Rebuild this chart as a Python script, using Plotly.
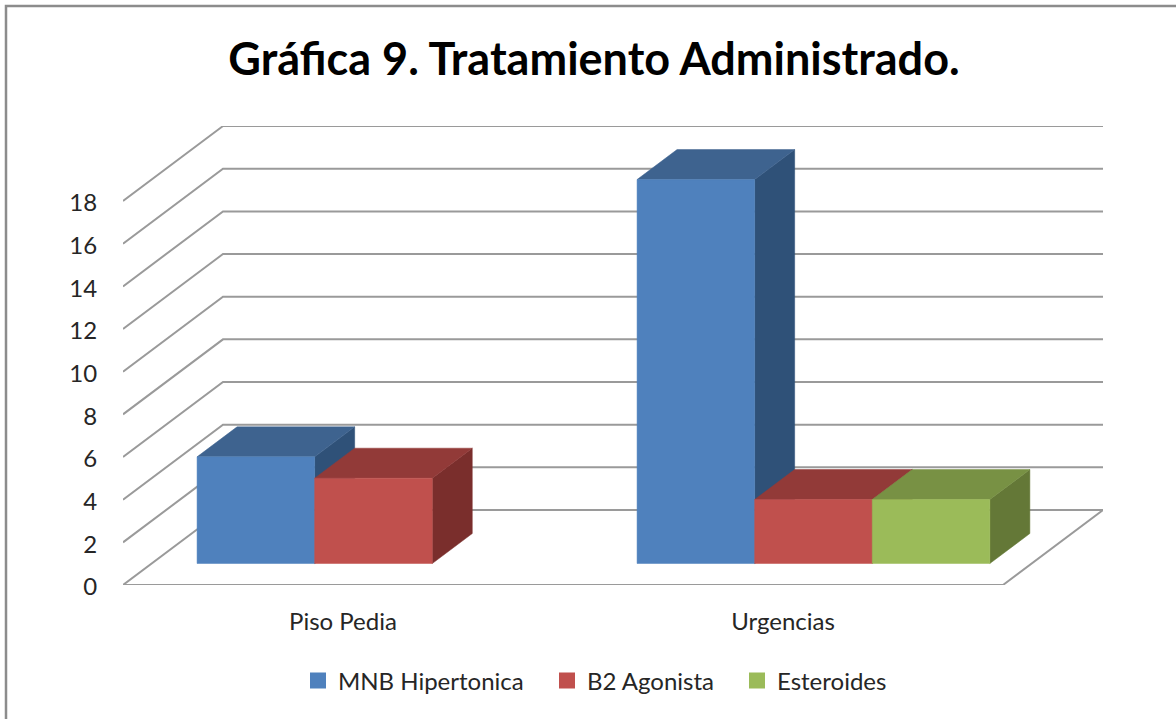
import plotly.graph_objects as go

title = "Gráfica 9. Tratamiento Administrado."
categories = ["Piso Pedia", "Urgencias"]
series_names = ["MNB Hipertonica", "B2 Agonista", "Esteroides"]
mnb_values = [5, 18]
b2_values = [4, 3]
ester_values = [None, 3]
y_ticks = list(range(0, 20, 2))

front_colors = ["#4F81BD", "#C0504D", "#9BBB59"]
top_colors = ["#3E638F", "#923A38", "#789144"]
side_colors = ["#2F5178", "#7A2E2C", "#647837"]
GRID = "#9A9A9A"
FONT = "Lato"
TEXT = "#262626"

# pixel layout of the plot area
W, H = 1176, 719
L, R, T, B = 123, 73, 126, 134
PX_PER_CAT = 440.0
PX_PER_UNIT = 21.33
DEPTH_X = 100.0 / PX_PER_CAT      # x units for full floor depth
DEPTH_Y = 75.0 / PX_PER_UNIT      # value units for full floor depth
BAR_W = 117.6 / PX_PER_CAT
BAR_SHIFT = 1.8 / PX_PER_CAT
BAR_D0, BAR_D1 = 21.5 / 75, 51.5 / 75
legend_px = [298, 547, 737]


def proj(x, v, d):
    return x + d * DEPTH_X, v + d * DEPTH_Y


def poly(points, color):
    pts = [proj(*p) for p in points]
    xs = [p[0] for p in pts] + [pts[0][0]]
    ys = [p[1] for p in pts] + [pts[0][1]]
    return go.Scatter(x=xs, y=ys, mode="lines", fill="toself", fillcolor=color,
                      line=dict(color=color, width=0.5),
                      showlegend=False, hoverinfo="skip")


def wire(pts):
    return go.Scatter(x=[p[0] for p in pts], y=[p[1] for p in pts], mode="lines",
                      line=dict(color=GRID, width=2), showlegend=False, hoverinfo="skip")


fig = go.Figure()

# back wall, left wall and floor
n = len(categories)
for v in y_ticks:
    if v == 0:
        fig.add_trace(wire([proj(n, v, 1), proj(n, v, 0), proj(0, v, 0), proj(0, v, 1)]))
    else:
        fig.add_trace(wire([proj(0, v, 0), proj(0, v, 1), proj(n, v, 1)]))
fig.add_trace(wire([proj(0, 0, 1), proj(n, 0, 1)]))

# 3-D bars, painted left to right so nearer faces overlap correctly
all_series = [mnb_values, b2_values, ester_values]
for ci in range(n):
    for si, values in enumerate(all_series):
        v = values[ci]
        if v is None:
            continue
        x0 = ci + 0.5 + (si - 1.5) * BAR_W + BAR_SHIFT
        x1 = x0 + BAR_W
        fig.add_trace(poly([(x1, 0, BAR_D0), (x1, 0, BAR_D1), (x1, v, BAR_D1), (x1, v, BAR_D0)],
                           side_colors[si]))
        fig.add_trace(poly([(x0, v, BAR_D0), (x1, v, BAR_D0), (x1, v, BAR_D1), (x0, v, BAR_D1)],
                           top_colors[si]))
        fig.add_trace(poly([(x0, 0, BAR_D0), (x1, 0, BAR_D0), (x1, v, BAR_D0), (x0, v, BAR_D0)],
                           front_colors[si]))

plot_w, plot_h = W - L - R, H - T - B

# one legend per series so each entry sits at its own place
legend_layout = {}
for i, (name, color) in enumerate(zip(series_names, front_colors)):
    key = "legend" if i == 0 else f"legend{i + 1}"
    fig.add_trace(go.Scatter(x=[None], y=[None], mode="markers", name=name, legend=key,
                             showlegend=True,
                             marker=dict(symbol="square", size=16, color=color)))
    legend_layout[key] = dict(orientation="h", x=(legend_px[i] - L) / plot_w, xanchor="left",
                              y=(H - B - 681) / plot_h, yanchor="middle", itemclick=False,
                              font=dict(family=FONT, size=24, color=TEXT),
                              bgcolor="rgba(0,0,0,0)")

fig.update_layout(
    width=W, height=H,
    margin=dict(l=L, r=R, t=T, b=B, pad=0),
    paper_bgcolor="white", plot_bgcolor="rgba(0,0,0,0)",
    title=dict(text=title, x=594 / W, xanchor="center", y=1 - 59 / H, yanchor="middle",
               font=dict(family=FONT, size=45, color="#000000", weight="bold")),
    xaxis=dict(range=[0, n + DEPTH_X], showgrid=False, zeroline=False, showline=False,
               tickmode="array", tickvals=[i + 0.5 for i in range(n)], ticktext=categories,
               ticks="outside", ticklen=15, tickcolor="rgba(0,0,0,0)",
               tickfont=dict(family=FONT, size=24, color=TEXT)),
    yaxis=dict(range=[0, plot_h / PX_PER_UNIT], showgrid=False, zeroline=False, showline=False,
               tickmode="array", tickvals=y_ticks, ticktext=[str(t) for t in y_ticks],
               ticks="outside", ticklen=20, tickcolor="rgba(0,0,0,0)", ticklabelshift=2,
               tickfont=dict(family=FONT, size=24, color=TEXT)),
    shapes=[dict(type="rect", xref="paper", yref="paper",
                 x0=(6 - L) / plot_w, x1=(W + 5 - L) / plot_w,
                 y0=(H - B - H - 5) / plot_h, y1=(H - B - 6) / plot_h,
                 line=dict(color="#8C8C8C", width=2.5), layer="below")],
    **legend_layout,
)
fig.write_html("out.html", config={"displayModeBar": False},
               post_script="document.body.style.margin='0';document.documentElement.style.overflow='hidden';")
